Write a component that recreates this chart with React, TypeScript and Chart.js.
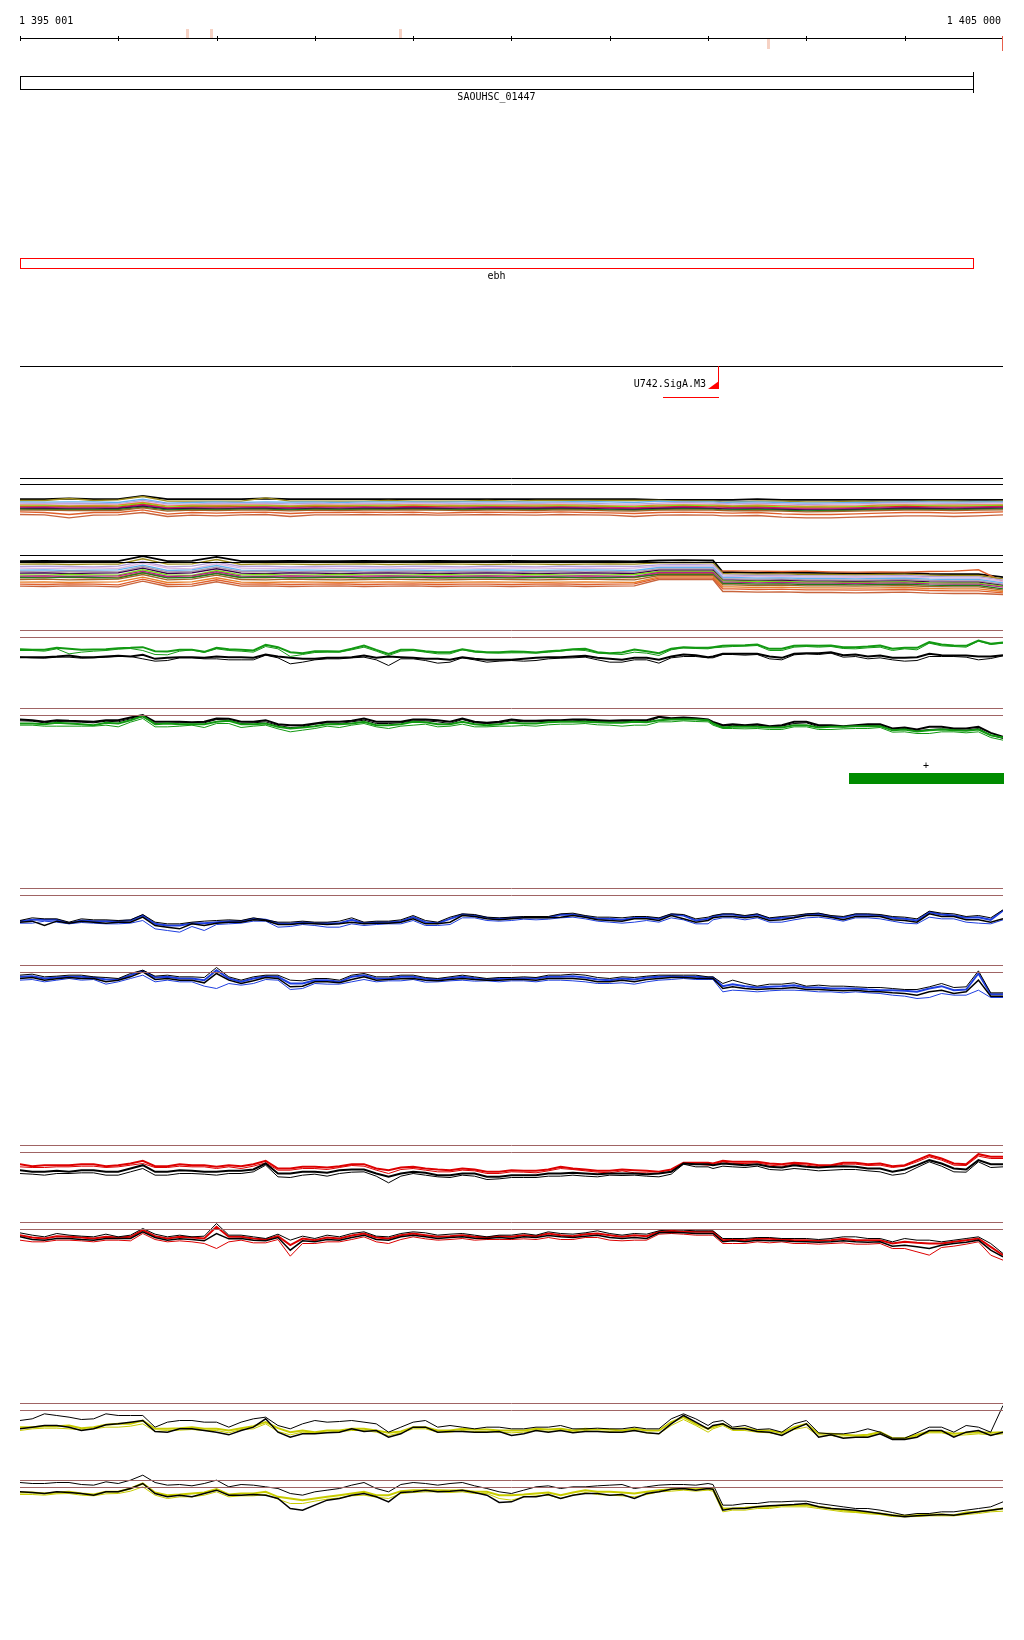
import React, { useEffect, useRef } from "react";
import { Chart, registerables } from "chart.js";

Chart.register(...registerables);

// ---------------- genomic window / ruler ----------------
const viewStart = 1395001;
const viewEnd = 1405000;
const rulerTicks = [1395001, 1396000, 1397000, 1398000, 1399000, 1400000, 1401000, 1402000, 1403000, 1404000, 1405000];
const rulerLabels = ["1 395 001", "1 405 000"];
const rulerMarks = [1396700, 1396945, 1398865, 1402605];
const rulerMarkBelow = [false, false, false, true];

// ---------------- annotation features ----------------
const geneNames = ["SAOUHSC_01447", "ebh"];
const geneStarts = [1395001, 1395001];
const geneEnds = [1404695, 1404690];
const geneColors = ["#000000", "#ff0000"];

const promoterNames = ["U742.SigA.M3"];
const promoterPos = [1402101];
const promoterFrom = [1401541];

const segmentLabels = ["+"];
const segmentStarts = [1403434];
const segmentEnds = [1405000];

// ---------------- sampling positions ----------------
const fineX = [1395000, 1395250, 1395500, 1395750, 1396000, 1396250, 1396500, 1396750, 1397000, 1397250, 1397500, 1397750, 1398000, 1398250, 1398500, 1398750, 1399000, 1399250, 1399500, 1399750, 1400000, 1400250, 1400500, 1400750, 1401000, 1401250, 1401500, 1401750, 1402000, 1402050, 1402150, 1402250, 1402500, 1402750, 1403000, 1403250, 1403500, 1403750, 1404000, 1404250, 1404500, 1404750, 1405000];
const midX = [1395125, 1395375, 1395625, 1395875, 1396125, 1396375, 1396625, 1396875, 1397125, 1397375, 1397625, 1397875, 1398125, 1398375, 1398625, 1398875, 1399125, 1399375, 1399625, 1399875, 1400125, 1400375, 1400625, 1400875, 1401125, 1401375, 1401625, 1401875, 1402375, 1402625, 1402875, 1403125, 1403375, 1403625, 1403875, 1404125, 1404375, 1404625, 1404875];

// ---------------- multi-condition track 1 ----------------
const mc1Black = [88, 88, 90, 88, 88, 98, 88, 88, 88, 88, 90, 88, 88, 88, 88, 88, 88, 88, 88, 88, 88, 88, 88, 88, 88, 88, 86, 86, 86, 86, 86, 86, 88, 86, 86, 86, 86, 86, 86, 86, 86, 86, 86];
const mc1Olive = [84, 84, 90, 84, 86, 96, 82, 82, 82, 82, 92, 82, 82, 82, 82, 84, 82, 82, 82, 84, 82, 84, 84, 84, 84, 84, 84, 82, 82, 82, 80, 80, 82, 82, 80, 80, 82, 80, 80, 82, 82, 80, 82];
const mc1LBlue = [80, 79, 80, 80, 78, 88, 76, 78, 80, 78, 80, 79, 80, 78, 80, 80, 80, 79, 80, 80, 80, 79, 80, 81, 80, 78, 82, 80, 80, 80, 78, 79, 80, 78, 76, 77, 78, 78, 80, 80, 79, 80, 80];
const mc1Lilac = [76, 75, 76, 75, 74, 84, 74, 73, 76, 75, 76, 74, 76, 74, 76, 75, 77, 76, 75, 76, 76, 75, 77, 76, 74, 73, 76, 78, 76, 76, 75, 74, 76, 74, 72, 73, 74, 76, 77, 76, 75, 76, 77];
const mc1Pink = [72, 73, 72, 71, 72, 80, 70, 72, 72, 73, 72, 71, 72, 72, 73, 72, 74, 73, 72, 72, 73, 72, 74, 72, 71, 70, 72, 74, 73, 72, 72, 71, 72, 70, 68, 70, 70, 72, 74, 73, 72, 73, 74];
const mc1Orange = [70, 70, 68, 69, 70, 78, 67, 70, 69, 70, 70, 68, 70, 69, 70, 70, 71, 70, 69, 70, 70, 70, 71, 70, 68, 67, 70, 71, 70, 70, 69, 68, 70, 68, 66, 67, 67, 70, 71, 70, 70, 71, 71];
const mc1Lime = [67, 68, 66, 66, 67, 75, 64, 67, 66, 67, 68, 66, 67, 66, 68, 67, 68, 67, 67, 68, 67, 67, 68, 67, 66, 65, 67, 69, 68, 68, 66, 66, 67, 65, 64, 64, 65, 67, 68, 68, 67, 68, 69];
const mc1Red = [65, 65, 64, 64, 64, 72, 62, 64, 64, 65, 65, 63, 65, 64, 65, 64, 66, 65, 64, 65, 65, 64, 65, 64, 63, 62, 64, 66, 65, 65, 64, 63, 64, 62, 61, 61, 62, 64, 66, 65, 64, 65, 66];
const mc1Magenta = [62, 63, 61, 62, 62, 70, 60, 62, 61, 62, 63, 61, 62, 62, 63, 62, 63, 62, 62, 63, 62, 62, 63, 62, 61, 60, 62, 64, 62, 62, 61, 61, 62, 60, 58, 59, 60, 62, 63, 62, 62, 63, 64];
const mc1Purple = [60, 60, 59, 59, 60, 67, 58, 60, 59, 60, 60, 58, 60, 59, 60, 60, 61, 60, 59, 60, 60, 60, 61, 60, 58, 57, 60, 61, 60, 60, 59, 58, 59, 57, 56, 56, 57, 59, 61, 60, 59, 60, 61];
const mc1DGreen = [58, 57, 57, 57, 57, 64, 56, 57, 57, 58, 58, 56, 58, 57, 58, 57, 58, 57, 57, 58, 57, 57, 58, 57, 56, 55, 57, 59, 58, 58, 56, 56, 57, 55, 53, 54, 55, 57, 58, 57, 57, 58, 59];
const mc1Brown = [55, 55, 54, 54, 54, 62, 52, 55, 54, 55, 55, 53, 55, 54, 55, 55, 56, 55, 54, 55, 55, 54, 56, 55, 53, 52, 55, 56, 55, 55, 54, 53, 54, 52, 50, 51, 52, 54, 55, 55, 54, 55, 56];
const mc1OrRed = [50, 48, 42, 48, 48, 56, 43, 48, 46, 48, 49, 45, 48, 48, 49, 48, 49, 46, 48, 49, 48, 48, 50, 48, 47, 45, 48, 49, 48, 48, 47, 46, 48, 44, 42, 42, 44, 46, 48, 48, 46, 48, 50];
const mc1Rust = [42, 41, 32, 40, 41, 48, 36, 40, 38, 41, 42, 36, 41, 41, 42, 41, 42, 40, 41, 42, 41, 40, 42, 41, 40, 36, 40, 41, 40, 40, 38, 38, 39, 34, 32, 32, 34, 36, 38, 38, 36, 38, 41];

// ---------------- multi-condition track 2 ----------------
const mc2Black = [133, 134, 133, 133, 133, 148, 133, 134, 146, 133, 133, 134, 133, 133, 134, 133, 133, 134, 133, 133, 134, 133, 133, 133, 133, 132, 135, 136, 135, 135, 100, 100, 98, 99, 98, 97, 96, 97, 98, 95, 94, 94, 85];
const mc2Olive = [124, 125, 123, 124, 124, 140, 124, 125, 138, 123, 125, 124, 123, 124, 125, 123, 124, 125, 124, 123, 124, 124, 123, 124, 125, 124, 128, 129, 128, 128, 96, 95, 94, 95, 93, 93, 92, 93, 94, 91, 90, 90, 80];
const mc2Lilac = [117, 118, 117, 116, 118, 132, 116, 118, 130, 117, 118, 116, 117, 118, 117, 116, 118, 117, 116, 118, 117, 116, 118, 117, 118, 117, 122, 123, 122, 122, 92, 91, 90, 91, 89, 89, 88, 89, 90, 87, 86, 86, 76];
const mc2Pink = [112, 111, 112, 113, 111, 127, 112, 110, 125, 112, 111, 112, 113, 111, 112, 112, 111, 112, 113, 111, 112, 113, 111, 112, 111, 112, 118, 118, 118, 118, 88, 87, 86, 87, 85, 85, 84, 85, 86, 83, 82, 82, 72];
const mc2LBlue = [106, 107, 105, 106, 107, 121, 105, 107, 120, 106, 105, 107, 106, 105, 106, 107, 106, 105, 106, 107, 106, 105, 106, 107, 106, 105, 114, 114, 114, 114, 84, 84, 82, 83, 81, 81, 80, 81, 82, 79, 78, 78, 68];
const mc2Gray = [102, 101, 103, 102, 101, 117, 101, 102, 115, 102, 103, 101, 102, 103, 101, 102, 103, 101, 102, 102, 101, 102, 103, 101, 102, 101, 110, 110, 110, 110, 80, 80, 78, 79, 77, 77, 76, 77, 78, 75, 74, 74, 64];
const mc2Purple = [97, 98, 96, 97, 98, 112, 96, 98, 110, 97, 96, 98, 97, 96, 97, 98, 97, 96, 97, 98, 97, 96, 97, 98, 97, 96, 106, 106, 106, 106, 76, 76, 74, 75, 73, 73, 72, 73, 74, 71, 70, 70, 60];
const mc2Lime = [92, 91, 93, 92, 91, 107, 92, 90, 105, 92, 93, 91, 92, 93, 92, 91, 92, 93, 92, 91, 92, 93, 92, 91, 92, 93, 102, 102, 102, 102, 74, 73, 72, 72, 70, 70, 69, 70, 71, 68, 67, 67, 58];
const mc2Magenta = [88, 89, 87, 88, 89, 103, 87, 89, 101, 88, 87, 89, 88, 87, 88, 89, 88, 87, 88, 89, 88, 87, 88, 89, 88, 87, 99, 99, 99, 99, 70, 70, 68, 69, 67, 67, 66, 67, 68, 65, 64, 64, 55];
const mc2Red = [84, 85, 84, 83, 85, 99, 84, 85, 97, 84, 83, 85, 84, 83, 84, 85, 84, 83, 84, 85, 84, 84, 83, 85, 84, 83, 96, 96, 96, 96, 104, 104, 103, 102, 103, 101, 100, 101, 100, 102, 103, 107, 72];
const mc2DGreen = [84, 83, 85, 84, 82, 98, 83, 84, 96, 84, 85, 83, 84, 85, 83, 84, 85, 83, 84, 84, 83, 84, 85, 83, 84, 85, 93, 93, 93, 93, 66, 66, 64, 65, 63, 63, 62, 63, 64, 61, 60, 60, 50];
const mc2Brown = [78, 79, 77, 78, 79, 93, 77, 79, 91, 78, 77, 79, 78, 77, 78, 79, 78, 77, 78, 79, 78, 77, 78, 79, 78, 77, 90, 90, 90, 90, 62, 62, 60, 61, 59, 59, 58, 59, 60, 57, 56, 56, 46];
const mc2Orange = [70, 71, 69, 70, 71, 85, 69, 71, 83, 70, 69, 71, 70, 69, 70, 71, 70, 69, 70, 71, 70, 69, 70, 71, 70, 69, 86, 86, 86, 86, 56, 56, 54, 55, 53, 53, 52, 53, 54, 51, 50, 50, 42];
const mc2OrRed = [64, 63, 65, 64, 62, 79, 63, 64, 77, 64, 65, 63, 64, 65, 63, 64, 65, 63, 64, 64, 63, 64, 65, 63, 64, 65, 82, 82, 82, 82, 50, 50, 48, 49, 47, 47, 46, 47, 48, 45, 44, 44, 38];
const mc2Rust = [58, 57, 59, 58, 56, 73, 57, 58, 71, 58, 59, 57, 58, 59, 57, 58, 59, 57, 58, 58, 57, 58, 59, 57, 58, 59, 78, 78, 78, 78, 42, 42, 40, 41, 39, 39, 38, 39, 40, 37, 36, 36, 33];

// ---------------- green pair ----------------
const greenAG1 = [94, 92, 95, 93, 97, 100, 87, 92, 98, 92, 107, 85, 88, 87, 105, 80, 92, 85, 94, 85, 87, 84, 90, 95, 82, 93, 82, 100, 98, 100, 104, 105, 108, 95, 105, 105, 100, 105, 98, 115, 105, 120, 114];
const greenAG2 = [90, 88, 80, 88, 94, 90, 77, 92, 95, 88, 102, 72, 84, 85, 100, 75, 90, 80, 92, 83, 83, 82, 88, 90, 80, 85, 75, 98, 95, 98, 100, 102, 105, 90, 102, 102, 95, 100, 95, 112, 102, 118, 112];
const greenAK1 = [70, 70, 75, 70, 74, 77, 68, 70, 72, 70, 78, 68, 65, 68, 75, 72, 68, 65, 70, 62, 62, 68, 70, 74, 65, 68, 62, 78, 70, 72, 80, 80, 80, 68, 82, 85, 78, 75, 68, 80, 75, 72, 76];
const greenAK2 = [70, 67, 70, 68, 72, 65, 60, 68, 65, 62, 76, 50, 62, 65, 70, 45, 65, 52, 68, 55, 60, 60, 67, 70, 55, 62, 52, 72, 68, 68, 78, 78, 78, 62, 80, 82, 72, 68, 58, 72, 72, 62, 74];
const greenAG1Mid = [92, 98, 92, 94, 98, 88, 92, 86, 94, 90, 100, 82, 88, 95, 92, 92, 88, 85, 88, 85, 86, 88, 94, 85, 84, 88, 95, 98, 106, 95, 104, 104, 100, 102, 95, 98, 108, 104, 110];
const greenAG2Mid = [90, 95, 85, 90, 96, 78, 88, 84, 90, 85, 95, 78, 85, 92, 88, 88, 85, 80, 85, 82, 83, 85, 92, 82, 78, 82, 92, 96, 103, 90, 100, 100, 96, 98, 90, 92, 104, 100, 108];
const greenAK1Mid = [70, 72, 70, 72, 72, 65, 70, 68, 70, 68, 72, 65, 68, 70, 68, 70, 65, 62, 65, 62, 65, 70, 72, 68, 62, 68, 72, 76, 80, 72, 80, 82, 76, 72, 68, 70, 76, 75, 72];
const greenAK2Mid = [68, 70, 67, 70, 72, 58, 68, 65, 62, 62, 68, 55, 65, 68, 62, 65, 60, 55, 62, 58, 58, 65, 68, 62, 55, 62, 68, 72, 76, 65, 77, 78, 70, 65, 62, 60, 72, 70, 66];
const greenBK1 = [117, 110, 113, 110, 115, 130, 110, 109, 120, 110, 115, 100, 105, 110, 120, 110, 117, 115, 120, 107, 117, 113, 115, 117, 113, 115, 125, 123, 117, 110, 100, 103, 103, 100, 110, 100, 100, 103, 93, 95, 90, 95, 65];
const greenBK2 = [113, 107, 110, 107, 110, 125, 105, 107, 117, 105, 110, 93, 103, 105, 115, 105, 113, 110, 117, 105, 113, 110, 112, 115, 110, 112, 123, 120, 115, 107, 97, 100, 100, 97, 107, 97, 97, 100, 90, 87, 87, 90, 60];
const greenBG1 = [105, 103, 105, 100, 105, 127, 105, 103, 110, 103, 105, 90, 97, 103, 110, 100, 110, 103, 110, 100, 107, 105, 110, 110, 107, 110, 115, 118, 115, 105, 93, 95, 95, 93, 100, 95, 97, 97, 87, 85, 85, 87, 63];
const greenBG2 = [100, 97, 97, 97, 95, 120, 95, 100, 105, 93, 100, 80, 90, 93, 105, 90, 100, 95, 103, 95, 97, 97, 103, 105, 100, 100, 110, 113, 110, 100, 90, 90, 90, 87, 95, 87, 90, 93, 80, 75, 80, 80, 55];
const greenBK1Mid = [115, 115, 112, 115, 123, 110, 110, 110, 119, 110, 103, 100, 110, 113, 110, 110, 117, 110, 110, 110, 113, 115, 117, 115, 115, 115, 121, 121, 100, 97, 110, 100, 97, 103, 90, 87, 95, 90, 77];
const greenBK2Mid = [112, 111, 109, 112, 119, 105, 107, 107, 115, 107, 99, 95, 107, 110, 105, 107, 113, 105, 107, 107, 110, 112, 113, 111, 110, 110, 119, 117, 97, 95, 105, 95, 95, 99, 85, 83, 89, 85, 70];
const greenBG1Mid = [105, 107, 103, 107, 115, 103, 103, 103, 113, 103, 95, 93, 103, 105, 100, 103, 109, 103, 103, 103, 105, 109, 110, 109, 107, 109, 117, 117, 95, 93, 100, 93, 95, 97, 85, 81, 87, 83, 70];
const greenBG2Mid = [100, 97, 97, 100, 109, 95, 97, 93, 105, 97, 89, 85, 97, 100, 95, 97, 103, 97, 95, 97, 99, 101, 103, 101, 97, 100, 110, 111, 89, 87, 95, 87, 89, 90, 79, 75, 80, 77, 63];

// ---------------- blue pair ----------------
const blueAK1 = [54, 59, 49, 56, 54, 72, 44, 49, 54, 54, 56, 49, 49, 52, 49, 52, 69, 49, 74, 64, 64, 66, 74, 69, 64, 66, 62, 72, 64, 69, 74, 74, 74, 66, 74, 69, 74, 72, 64, 82, 74, 69, 86];
const blueAB1 = [52, 56, 46, 52, 52, 69, 39, 46, 49, 52, 56, 44, 46, 46, 46, 49, 64, 46, 72, 62, 62, 64, 71, 66, 59, 62, 59, 69, 59, 66, 72, 72, 72, 62, 72, 66, 72, 69, 59, 79, 69, 64, 84];
const blueAK2 = [49, 39, 46, 49, 49, 64, 34, 44, 46, 49, 54, 42, 44, 44, 44, 46, 59, 44, 69, 59, 59, 62, 64, 64, 54, 59, 54, 59, 54, 62, 66, 66, 66, 56, 69, 64, 66, 66, 54, 74, 66, 56, 59];
const blueAB2 = [46, 52, 44, 46, 44, 54, 24, 36, 42, 46, 52, 36, 39, 34, 39, 44, 54, 39, 62, 54, 54, 56, 62, 59, 49, 49, 49, 56, 44, 56, 62, 62, 62, 49, 62, 59, 62, 59, 46, 64, 59, 46, 56];
const blueAK1Mid = [62, 59, 59, 56, 56, 49, 44, 52, 56, 62, 49, 52, 49, 62, 52, 56, 54, 64, 72, 62, 66, 66, 76, 64, 62, 66, 74, 59, 69, 62, 69, 76, 66, 74, 66, 59, 76, 66, 62];
const blueAB1Mid = [56, 56, 54, 52, 54, 44, 39, 46, 52, 59, 46, 49, 46, 56, 49, 52, 49, 59, 69, 59, 64, 64, 72, 59, 56, 62, 72, 54, 66, 59, 64, 74, 62, 71, 62, 54, 72, 62, 56];
const blueAK2Mid = [52, 52, 52, 46, 49, 39, 29, 39, 49, 56, 42, 46, 42, 49, 46, 49, 44, 49, 66, 56, 62, 62, 69, 56, 52, 59, 69, 49, 62, 54, 62, 69, 56, 66, 56, 49, 66, 56, 49];
const blueAB2Mid = [46, 49, 48, 44, 46, 29, 19, 24, 44, 52, 34, 42, 34, 44, 42, 44, 39, 42, 62, 52, 58, 58, 64, 52, 46, 54, 62, 44, 56, 49, 56, 64, 52, 62, 52, 44, 59, 49, 44];
const blueBK1 = [121, 116, 121, 116, 111, 136, 121, 116, 144, 106, 121, 106, 111, 106, 126, 116, 121, 111, 121, 111, 114, 114, 121, 121, 111, 114, 121, 121, 116, 116, 96, 106, 88, 94, 88, 88, 86, 84, 78, 86, 84, 134, 68];
const blueBB1 = [116, 111, 116, 114, 108, 134, 116, 111, 136, 101, 118, 96, 106, 101, 121, 111, 116, 108, 116, 108, 111, 111, 116, 114, 106, 108, 116, 116, 114, 114, 88, 94, 84, 88, 84, 81, 81, 76, 74, 81, 76, 126, 64];
const blueBK2 = [111, 106, 114, 111, 106, 131, 111, 106, 126, 96, 114, 86, 101, 98, 116, 108, 111, 104, 111, 106, 108, 106, 111, 108, 101, 101, 111, 114, 111, 111, 81, 86, 78, 81, 78, 76, 76, 71, 66, 71, 66, 106, 58];
const blueBB2 = [106, 101, 111, 108, 101, 121, 106, 101, 81, 91, 108, 78, 96, 94, 108, 104, 108, 101, 106, 104, 104, 101, 106, 101, 96, 94, 106, 111, 108, 108, 71, 76, 71, 76, 74, 71, 71, 66, 58, 54, 61, 76, 54];
const blueBK1Mid = [124, 118, 121, 114, 126, 118, 116, 114, 116, 116, 121, 104, 111, 121, 116, 121, 114, 116, 116, 114, 116, 121, 124, 114, 116, 118, 121, 121, 96, 94, 98, 91, 88, 84, 81, 78, 96, 86, 68];
const blueBB1Mid = [118, 114, 116, 108, 121, 114, 111, 106, 111, 111, 116, 96, 106, 116, 111, 116, 110, 112, 112, 110, 112, 116, 118, 108, 111, 114, 118, 116, 88, 86, 91, 84, 81, 78, 76, 71, 88, 78, 64];
const blueBK2Mid = [114, 110, 111, 101, 116, 108, 106, 98, 106, 104, 111, 88, 101, 108, 106, 110, 106, 108, 108, 106, 108, 111, 111, 101, 106, 108, 114, 112, 81, 80, 84, 78, 74, 72, 68, 61, 76, 71, 58];
const blueBB2Mid = [108, 106, 106, 94, 111, 101, 101, 88, 96, 96, 106, 81, 94, 101, 101, 104, 100, 104, 103, 101, 104, 106, 104, 96, 98, 101, 108, 108, 74, 74, 76, 71, 68, 68, 61, 51, 66, 61, 54];

// ---------------- red pair ----------------
const redAR1 = [94, 91, 91, 94, 91, 104, 88, 91, 86, 88, 104, 81, 86, 88, 94, 76, 86, 78, 81, 71, 76, 74, 86, 78, 74, 76, 71, 98, 98, 96, 104, 101, 101, 94, 96, 91, 98, 96, 91, 121, 96, 124, 116];
const redAR2 = [86, 84, 86, 88, 86, 96, 84, 86, 81, 81, 98, 76, 81, 84, 88, 66, 81, 71, 76, 66, 71, 68, 81, 74, 68, 68, 66, 96, 91, 91, 101, 96, 98, 88, 91, 88, 94, 91, 88, 116, 91, 118, 111];
const redAK1 = [76, 71, 71, 76, 71, 91, 71, 74, 71, 74, 96, 66, 71, 76, 78, 56, 71, 61, 66, 56, 61, 61, 66, 66, 66, 66, 66, 96, 94, 91, 96, 94, 94, 84, 86, 86, 86, 81, 78, 106, 81, 106, 94];
const redAK2 = [66, 61, 66, 68, 61, 81, 61, 66, 61, 66, 91, 54, 64, 66, 71, 38, 66, 56, 61, 48, 54, 54, 58, 58, 61, 61, 56, 94, 86, 81, 88, 86, 88, 76, 78, 76, 78, 71, 66, 101, 71, 101, 86];
const redAR1Mid = [88, 91, 94, 88, 96, 88, 94, 91, 91, 94, 81, 86, 84, 94, 81, 84, 81, 76, 78, 71, 74, 78, 81, 74, 78, 74, 78, 98, 101, 96, 98, 91, 98, 94, 88, 106, 111, 94, 116];
const redAR2Mid = [84, 86, 88, 84, 91, 84, 88, 86, 86, 88, 76, 81, 78, 90, 76, 78, 76, 71, 74, 66, 70, 74, 78, 70, 74, 68, 71, 94, 96, 91, 94, 86, 94, 90, 84, 101, 106, 90, 111];
const redAK1Mid = [71, 74, 76, 71, 81, 71, 76, 71, 74, 78, 66, 71, 68, 78, 66, 66, 68, 61, 66, 56, 61, 66, 68, 64, 66, 64, 71, 94, 91, 86, 91, 84, 88, 81, 71, 91, 96, 78, 94];
const redAK2Mid = [64, 66, 68, 61, 71, 61, 66, 64, 66, 71, 56, 61, 58, 70, 58, 58, 61, 54, 58, 50, 54, 58, 61, 56, 60, 58, 64, 86, 84, 78, 81, 74, 78, 74, 61, 84, 88, 70, 84];
const redBK1 = [119, 107, 112, 107, 107, 132, 107, 107, 147, 112, 102, 97, 102, 107, 122, 107, 122, 112, 117, 107, 112, 112, 117, 119, 117, 117, 125, 127, 125, 125, 102, 102, 105, 102, 102, 102, 107, 102, 102, 97, 97, 107, 57];
const redBR1 = [112, 102, 107, 102, 105, 127, 102, 105, 137, 107, 99, 82, 97, 102, 117, 102, 117, 107, 112, 105, 107, 109, 112, 115, 112, 112, 122, 122, 122, 122, 97, 99, 102, 99, 97, 97, 97, 97, 92, 87, 92, 102, 52];
const redBK2 = [107, 97, 102, 97, 102, 122, 97, 99, 117, 102, 95, 67, 92, 97, 112, 97, 112, 102, 107, 102, 102, 105, 107, 109, 105, 105, 119, 119, 117, 117, 92, 95, 97, 95, 92, 92, 92, 92, 82, 72, 87, 97, 47];
const redBR2 = [97, 92, 97, 92, 97, 117, 92, 92, 72, 97, 89, 49, 87, 92, 107, 87, 107, 97, 102, 99, 99, 99, 99, 105, 97, 97, 115, 115, 112, 112, 87, 87, 92, 92, 87, 87, 85, 87, 72, 52, 79, 92, 37];
const redBK1Mid = [112, 117, 109, 115, 112, 115, 112, 109, 112, 107, 115, 109, 112, 117, 109, 117, 119, 115, 112, 112, 117, 122, 115, 125, 112, 115, 129, 125, 102, 105, 102, 99, 107, 102, 92, 97, 92, 102, 87];
const redBR1Mid = [105, 109, 105, 107, 107, 109, 107, 102, 107, 102, 109, 102, 105, 111, 105, 112, 112, 109, 107, 109, 112, 117, 109, 117, 107, 109, 125, 122, 97, 101, 97, 95, 101, 97, 87, 89, 87, 97, 77];
const redBK2Mid = [99, 102, 99, 102, 102, 105, 101, 95, 101, 97, 105, 95, 99, 105, 99, 107, 107, 105, 103, 105, 107, 111, 105, 112, 102, 102, 121, 117, 92, 95, 93, 91, 95, 91, 79, 77, 82, 91, 67];
const redBR2Mid = [92, 97, 95, 97, 95, 99, 95, 87, 92, 89, 99, 87, 92, 99, 92, 99, 101, 99, 97, 99, 101, 105, 99, 105, 95, 97, 117, 112, 87, 89, 87, 85, 89, 85, 72, 62, 75, 85, 52];

// ---------------- yellow pair ----------------
const yellowAK1 = [99, 119, 109, 104, 114, 114, 94, 99, 94, 94, 109, 74, 99, 96, 94, 64, 94, 79, 79, 79, 74, 79, 84, 74, 74, 79, 74, 119, 84, 94, 99, 79, 72, 64, 99, 59, 64, 64, 46, 79, 64, 79, 144];
const yellowAK2 = [74, 84, 79, 74, 89, 99, 64, 74, 64, 69, 104, 49, 59, 64, 66, 49, 79, 64, 66, 64, 54, 69, 69, 66, 64, 69, 59, 114, 74, 84, 89, 74, 66, 54, 89, 56, 49, 59, 42, 69, 49, 69, 64];
const yellowAY1 = [79, 82, 84, 79, 89, 99, 74, 79, 74, 76, 94, 64, 64, 69, 74, 62, 79, 69, 74, 72, 69, 74, 74, 74, 72, 74, 69, 109, 74, 79, 89, 74, 69, 62, 89, 59, 54, 64, 46, 66, 59, 64, 64];
const yellowAY2 = [69, 76, 74, 74, 79, 89, 69, 72, 69, 72, 89, 56, 62, 66, 69, 54, 74, 64, 69, 66, 62, 69, 69, 69, 66, 69, 59, 102, 64, 74, 84, 69, 64, 56, 79, 54, 49, 59, 44, 62, 54, 59, 59];
const yellowAK1Mid = [104, 114, 102, 119, 114, 79, 99, 94, 79, 104, 84, 89, 94, 99, 89, 79, 99, 84, 74, 79, 74, 79, 74, 76, 74, 74, 104, 104, 84, 74, 89, 62, 59, 74, 46, 62, 79, 84, 64];
const yellowAK2Mid = [79, 84, 69, 86, 94, 66, 74, 69, 56, 79, 64, 59, 62, 74, 69, 59, 79, 66, 64, 66, 59, 64, 62, 66, 64, 62, 89, 94, 74, 64, 74, 49, 46, 49, 42, 49, 69, 64, 54];
const yellowAY1Mid = [79, 82, 76, 86, 89, 74, 76, 74, 69, 82, 76, 69, 69, 74, 69, 66, 79, 69, 72, 69, 69, 72, 69, 72, 69, 69, 94, 89, 76, 69, 79, 59, 56, 56, 46, 56, 66, 62, 62];
const yellowAY2Mid = [74, 76, 71, 79, 82, 66, 70, 69, 62, 74, 66, 64, 64, 69, 64, 62, 74, 64, 66, 64, 64, 66, 64, 66, 64, 62, 84, 84, 69, 62, 72, 52, 49, 52, 44, 52, 62, 56, 56];
const yellowBK1 = [144, 141, 144, 136, 141, 166, 136, 134, 151, 138, 131, 111, 116, 126, 144, 116, 144, 136, 144, 126, 111, 131, 126, 131, 136, 126, 136, 138, 141, 138, 76, 76, 81, 86, 88, 76, 66, 61, 46, 51, 56, 66, 86];
const yellowBK2 = [116, 111, 114, 106, 116, 141, 101, 101, 121, 106, 106, 66, 76, 96, 111, 86, 116, 116, 121, 106, 86, 101, 96, 111, 106, 96, 116, 126, 126, 124, 61, 66, 71, 76, 81, 66, 61, 51, 41, 46, 46, 56, 66];
const yellowBY1 = [114, 111, 116, 108, 116, 141, 106, 111, 124, 111, 116, 96, 96, 106, 116, 106, 121, 121, 121, 116, 106, 111, 106, 121, 116, 111, 121, 126, 126, 124, 66, 66, 71, 76, 76, 66, 56, 51, 44, 48, 46, 56, 66];
const yellowBY2 = [108, 106, 111, 104, 111, 131, 96, 101, 116, 104, 108, 81, 88, 98, 106, 96, 114, 116, 116, 111, 91, 104, 96, 114, 106, 101, 116, 121, 121, 118, 56, 61, 66, 71, 71, 61, 54, 48, 41, 44, 44, 51, 58];
const yellowBK1Mid = [141, 144, 138, 146, 151, 144, 138, 141, 131, 136, 126, 106, 121, 136, 126, 138, 141, 141, 134, 116, 121, 134, 131, 134, 138, 131, 138, 136, 81, 86, 88, 81, 71, 66, 54, 51, 56, 61, 71];
const yellowBK2Mid = [114, 116, 111, 116, 126, 111, 106, 111, 106, 108, 96, 61, 91, 106, 101, 114, 121, 118, 114, 84, 101, 108, 106, 111, 108, 111, 124, 121, 66, 74, 78, 71, 64, 56, 46, 44, 48, 51, 61];
const yellowBY1Mid = [114, 114, 111, 116, 126, 114, 108, 114, 108, 111, 101, 91, 101, 111, 106, 118, 121, 120, 116, 106, 108, 114, 114, 116, 114, 116, 124, 124, 68, 71, 76, 71, 61, 54, 46, 46, 48, 54, 61];
const yellowBY2Mid = [108, 110, 106, 110, 118, 106, 101, 106, 101, 104, 94, 81, 94, 104, 100, 111, 116, 114, 111, 96, 101, 106, 106, 108, 104, 108, 118, 118, 61, 66, 71, 66, 56, 50, 42, 42, 44, 48, 56];

// threshold levels of each signal track
const upperLevel = 150;
const lowerLevel = 129;
const lowerLevelTrack1 = 132;

// ---------------- layout (pixels) ----------------
const W = 1024;
const H = 1640;
const PAD_LEFT = 20;
const PAD_RIGHT = 21;
const UNITS_PER_PX = 3;
const FONT = '10px "DejaVu Sans Mono", "Liberation Mono", monospace';
const TRACK_TOP: Record<string, number> = {
  mc1: 478.5, mc2: 555.5, greenA: 630.5, greenB: 708.5, blueA: 888.5,
  blueB: 965.5, redA: 1145.5, redB: 1222.5, yellowA: 1403.5, yellowB: 1480.5,
};

const C = {
  black: "#000000", olive: "#9c8c1c", lilac: "#b4a0dc", lblue: "#64b4f0", mauve: "#a898b0", pink: "#e0b8e0",
  orange: "#e8802c", lime: "#78e014", red: "#e02020", magenta: "#b41e8c", purple: "#3c004c",
  dgreen: "#1e7d1e", brown: "#a0642c", orred: "#e0602c", rust: "#c8643c",
  green: "#129912", blue: "#1e3ee0", dred: "#dd0000", yellow: "#c8cc00", thr: "#a06464",
};

type Line = [number[], string, number, number[]?];
type Track = { id: string; levels: number[]; levelColor: string; lines: Line[] };

const MC_W = 1.4;
const tracks: Track[] = [
  {
    id: "mc1", levels: [upperLevel, lowerLevelTrack1], levelColor: C.black,
    lines: [
      [mc1Rust, C.rust, MC_W], [mc1OrRed, C.orred, MC_W], [mc1Brown, C.brown, MC_W], [mc1DGreen, C.dgreen, MC_W],
      [mc1Purple, C.purple, MC_W], [mc1Magenta, C.magenta, MC_W], [mc1Red, C.red, MC_W], [mc1Lime, C.lime, MC_W],
      [mc1Orange, C.orange, MC_W], [mc1Pink, C.pink, MC_W], [mc1Lilac, C.lilac, MC_W], [mc1LBlue, C.lblue, MC_W],
      [mc1Olive, C.olive, MC_W], [mc1Black, C.black, 1.8],
    ],
  },
  {
    id: "mc2", levels: [upperLevel, lowerLevel], levelColor: C.black,
    lines: [
      [mc2Rust, C.rust, MC_W], [mc2OrRed, C.orred, MC_W], [mc2Orange, C.orange, MC_W], [mc2Brown, C.brown, MC_W],
      [mc2DGreen, C.dgreen, MC_W], [mc2Magenta, C.magenta, MC_W], [mc2Lime, C.lime, MC_W], [mc2Purple, C.purple, MC_W],
      [mc2Gray, C.mauve, MC_W], [mc2LBlue, C.lblue, MC_W], [mc2Pink, C.pink, MC_W], [mc2Lilac, C.lilac, MC_W],
      [mc2Olive, C.olive, MC_W], [mc2Red, C.orred, MC_W], [mc2Black, C.black, 1.8],
    ],
  },
  { id: "greenA", levels: [upperLevel, lowerLevel], levelColor: C.thr,
    lines: [[greenAK2, C.black, 1, greenAK2Mid], [greenAK1, C.black, 2, greenAK1Mid], [greenAG2, C.green, 1, greenAG2Mid], [greenAG1, C.green, 2, greenAG1Mid]] },
  { id: "greenB", levels: [upperLevel, lowerLevel], levelColor: C.thr,
    lines: [[greenBG2, C.green, 1, greenBG2Mid], [greenBG1, C.green, 2, greenBG1Mid], [greenBK2, C.black, 1, greenBK2Mid], [greenBK1, C.black, 2, greenBK1Mid]] },
  { id: "blueA", levels: [upperLevel, lowerLevel], levelColor: C.thr,
    lines: [[blueAK1, C.black, 1, blueAK1Mid], [blueAK2, C.black, 1.5, blueAK2Mid], [blueAB2, C.blue, 1, blueAB2Mid], [blueAB1, C.blue, 2, blueAB1Mid]] },
  { id: "blueB", levels: [upperLevel, lowerLevel], levelColor: C.thr,
    lines: [[blueBK1, C.black, 1, blueBK1Mid], [blueBK2, C.black, 1.5, blueBK2Mid], [blueBB2, C.blue, 1, blueBB2Mid], [blueBB1, C.blue, 2, blueBB1Mid]] },
  { id: "redA", levels: [upperLevel, lowerLevel], levelColor: C.thr,
    lines: [[redAK2, C.black, 1, redAK2Mid], [redAK1, C.black, 2, redAK1Mid], [redAR2, C.dred, 1, redAR2Mid], [redAR1, C.dred, 2, redAR1Mid]] },
  { id: "redB", levels: [upperLevel, lowerLevel], levelColor: C.thr,
    lines: [[redBK1, C.black, 1, redBK1Mid], [redBK2, C.black, 1.5, redBK2Mid], [redBR2, C.dred, 1, redBR2Mid], [redBR1, C.dred, 2, redBR1Mid]] },
  { id: "yellowA", levels: [upperLevel, lowerLevel], levelColor: C.thr,
    lines: [[yellowAK1, C.black, 1, yellowAK1Mid], [yellowAK2, C.black, 1.5, yellowAK2Mid], [yellowAY2, C.yellow, 1, yellowAY2Mid], [yellowAY1, C.yellow, 2, yellowAY1Mid]] },
  { id: "yellowB", levels: [upperLevel, lowerLevel], levelColor: C.thr,
    lines: [[yellowBK1, C.black, 1, yellowBK1Mid], [yellowBK2, C.black, 1.5, yellowBK2Mid], [yellowBY2, C.yellow, 1, yellowBY2Mid], [yellowBY1, C.yellow, 2, yellowBY1Mid]] },
];

const L = {
  rulerY: 38, tickTop: 36, tickBottom: 41, endTickBottom: 51, rulerLabelY: 24,
  markTop: 29, markBottom: 38, markBelowBottom: 49,
  geneTop: [76, 258], geneHeight: [13, 10], geneLabelY: [100, 279], geneEndBar: [72, 93],
  promoterLineY: 366, promoterTickBottom: 389, promoterLabelY: 387, promoterSpanY: 397,
  segmentTop: 773, segmentHeight: 11, segmentLabelY: 769,
};

// pair sample positions with readings; merge main and half-step readings in position order
function pts(ys: number[], mids?: number[]) {
  const out = fineX.map((x, i) => ({ x, y: ys[i] }));
  if (mids) midX.forEach((x, i) => out.push({ x, y: mids[i] }));
  out.sort((a, b) => a.x - b.x);
  return out;
}

function hline(ctx: CanvasRenderingContext2D, x1: number, x2: number, y: number) {
  ctx.beginPath();
  ctx.moveTo(x1, y + 0.5);
  ctx.lineTo(x2, y + 0.5);
  ctx.stroke();
}
function vline(ctx: CanvasRenderingContext2D, x: number, y1: number, y2: number) {
  ctx.beginPath();
  ctx.moveTo(x + 0.5, y1);
  ctx.lineTo(x + 0.5, y2);
  ctx.stroke();
}

const featurePlugin = {
  id: "features",
  afterDatasetsDraw(chart: any) {
    const ctx: CanvasRenderingContext2D = chart.ctx;
    const xs = chart.scales.x;
    const px = (v: number) => Math.round(xs.getPixelForValue(v));
    ctx.save();
    ctx.font = FONT;
    ctx.lineWidth = 1;
    ctx.textBaseline = "alphabetic";

    rulerMarks.forEach((m, i) => {
      ctx.fillStyle = "#f6d2c4";
      const x = px(m);
      if (rulerMarkBelow[i]) ctx.fillRect(x - 1, L.rulerY + 1, 3, L.markBelowBottom - L.rulerY - 1);
      else ctx.fillRect(x - 1, L.markTop, 3, L.markBottom - L.markTop);
    });

    ctx.strokeStyle = "#000";
    hline(ctx, px(viewStart), px(viewEnd), L.rulerY);
    rulerTicks.forEach((t, i) => {
      if (i === rulerTicks.length - 1) {
        ctx.strokeStyle = "#e8604c";
        vline(ctx, px(t) - 1, L.tickTop, L.endTickBottom);
      } else {
        ctx.strokeStyle = "#000";
        vline(ctx, px(t), L.tickTop, L.tickBottom);
      }
    });
    ctx.fillStyle = "#000";
    ctx.textAlign = "left";
    ctx.fillText(rulerLabels[0], px(viewStart) - 1, L.rulerLabelY);
    ctx.textAlign = "right";
    ctx.fillText(rulerLabels[1], px(viewEnd) - 2, L.rulerLabelY);

    geneNames.forEach((name, i) => {
      const x1 = px(geneStarts[i]);
      const x2 = px(geneEnds[i]);
      ctx.strokeStyle = geneColors[i];
      ctx.strokeRect(x1 + 0.5, L.geneTop[i] + 0.5, x2 - x1, L.geneHeight[i]);
      if (i === 0) vline(ctx, x2, L.geneEndBar[0], L.geneEndBar[1]);
      ctx.fillStyle = "#000";
      ctx.textAlign = "center";
      ctx.fillText(name, (x1 + x2) / 2, L.geneLabelY[i]);
    });

    ctx.strokeStyle = "#000";
    hline(ctx, px(viewStart), px(viewEnd), L.promoterLineY);
    promoterNames.forEach((name, i) => {
      const x = px(promoterPos[i]);
      ctx.strokeStyle = "#ff0000";
      vline(ctx, x, L.promoterLineY, L.promoterTickBottom);
      ctx.fillStyle = "#ff0000";
      ctx.beginPath();
      ctx.moveTo(x - 10, L.promoterTickBottom);
      ctx.lineTo(x + 1, L.promoterTickBottom);
      ctx.lineTo(x + 1, L.promoterTickBottom - 8);
      ctx.closePath();
      ctx.fill();
      hline(ctx, px(promoterFrom[i]), x + 1, L.promoterSpanY);
      ctx.fillStyle = "#000";
      ctx.textAlign = "right";
      ctx.fillText(name, x - 12, L.promoterLabelY);
    });

    segmentLabels.forEach((lab, i) => {
      const x1 = px(segmentStarts[i]);
      const x2 = px(segmentEnds[i]);
      ctx.fillStyle = "#008c00";
      ctx.fillRect(x1, L.segmentTop, x2 - x1 + 1, L.segmentHeight);
      ctx.fillStyle = "#000";
      ctx.textAlign = "center";
      ctx.fillText(lab, (x1 + x2) / 2, L.segmentLabelY);
    });
    ctx.restore();
  },
};

function buildConfig(): any {
  const datasets: any[] = [];
  const scales: any = {
    x: { type: "linear", min: viewStart, max: viewEnd, display: false },
    y: { type: "linear", display: false },
  };
  tracks.forEach((t) => {
    const top = TRACK_TOP[t.id];
    const axisId = "y_" + t.id;
    scales[axisId] = {
      type: "linear",
      display: false,
      min: upperLevel - UNITS_PER_PX * (H - top),
      max: upperLevel + UNITS_PER_PX * top,
    };
    t.levels.forEach((lv) => {
      datasets.push({
        data: [{ x: viewStart, y: lv }, { x: viewEnd, y: lv }],
        yAxisID: axisId, borderColor: t.levelColor, borderWidth: 1,
      });
    });
    t.lines.forEach(([vals, color, width, mids]) => {
      datasets.push({ data: pts(vals, mids), yAxisID: axisId, borderColor: color, borderWidth: width });
    });
  });
  return {
    type: "line",
    data: { datasets },
    options: {
      animation: false,
      responsive: false,
      devicePixelRatio: 1,
      events: [],
      layout: { padding: { left: PAD_LEFT, right: PAD_RIGHT, top: 0, bottom: 0 } },
      plugins: { legend: { display: false }, tooltip: { enabled: false }, title: { display: false } },
      elements: { point: { radius: 0 }, line: { tension: 0, fill: false, borderJoinStyle: "miter" } },
      scales,
    },
    plugins: [featurePlugin],
  };
}

export default function App() {
  const ref = useRef<HTMLCanvasElement | null>(null);
  useEffect(() => {
    if (!ref.current) return;
    const chart = new Chart(ref.current, buildConfig());
    return () => chart.destroy();
  }, []);
  return (
    <div style={{ position: "absolute", left: 0, top: 0, width: W, height: H, background: "#fff" }}>
      <canvas ref={ref} width={W} height={H} style={{ display: "block", width: W, height: H }} />
    </div>
  );
}
